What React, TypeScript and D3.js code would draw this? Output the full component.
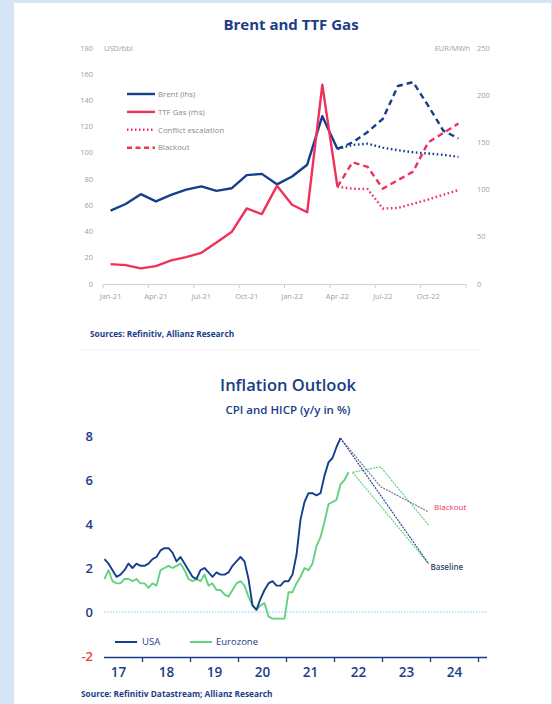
import { line, scaleLinear } from 'd3'

// Brent / TTF — monthly, Jan-21 .. Dec-22 (index 0..23)
const MONTHS = [
  'Jan-21', 'Feb-21', 'Mar-21', 'Apr-21', 'May-21', 'Jun-21', 'Jul-21', 'Aug-21', 'Sep-21', 'Oct-21', 'Nov-21', 'Dec-21',
  'Jan-22', 'Feb-22', 'Mar-22', 'Apr-22', 'May-22', 'Jun-22', 'Jul-22', 'Aug-22', 'Sep-22', 'Oct-22', 'Nov-22', 'Dec-22',
]
const BRENT = [56, 61, 68.5, 63, 68, 72, 74.5, 71, 73, 83, 84, 76, 82, 91, 128, 103]
const TTF = [21, 20, 16.5, 19, 25, 28.5, 33, 44, 55, 80, 74, 104, 84, 76, 211, 103]
const SCEN_START = 15 // Apr-22
const BRENT_CONFLICT = [103, 106, 107, 104, 102, 100.5, 99.5, 98.5, 97]
const BRENT_BLACKOUT = [103, 108, 116, 126, 151, 154, 136, 117, 111]
const TTF_CONFLICT = [103, 101, 100.5, 80, 80.5, 85, 89.5, 94.5, 99.5]
const TTF_BLACKOUT = [103, 129, 124, 101, 110, 119, 150, 160, 170]
const LHS_TICKS = [0, 20, 40, 60, 80, 100, 120, 140, 160, 180]
const RHS_TICKS = [0, 50, 100, 150, 200, 250]

// CPI / HICP — monthly, index = months since Jan-2017
const CPI_START = 2 // Mar-2017
const USA = [
  2.4, 2.2, 1.9, 1.6, 1.7, 1.9, 2.2, 2.0, 2.2, 2.1,
  2.1, 2.2, 2.4, 2.5, 2.8, 2.9, 2.9, 2.7, 2.3, 2.5, 2.2, 1.9,
  1.6, 1.5, 1.9, 2.0, 1.8, 1.6, 1.8, 1.7, 1.7, 1.8, 2.1, 2.3,
  2.5, 2.3, 1.5, 0.3, 0.1, 0.6, 1.0, 1.3, 1.4, 1.2, 1.2, 1.4,
  1.4, 1.7, 2.6, 4.2, 5.0, 5.4, 5.4, 5.3, 5.4, 6.2, 6.8, 7.0,
  7.5, 7.9,
]
const EUROZONE = [
  1.5, 1.9, 1.4, 1.3, 1.3, 1.5, 1.5, 1.4, 1.5, 1.3,
  1.3, 1.1, 1.3, 1.2, 1.9, 2.0, 2.1, 2.0, 2.1, 2.2, 1.9, 1.5,
  1.4, 1.5, 1.4, 1.7, 1.2, 1.3, 1.0, 1.0, 0.8, 0.7, 1.0, 1.3,
  1.4, 1.2, 0.7, 0.3, 0.1, 0.3, 0.4, -0.2, -0.3, -0.3, -0.3, -0.3,
  0.9, 0.9, 1.3, 1.6, 2.0, 1.9, 2.2, 3.0, 3.4, 4.1, 4.9, 5.0,
  5.1, 5.8, 6.0, 6.35,
]
// scenario paths: [month index, value]
const USA_BASELINE: [number, number][] = [[61, 7.9], [83, 2.2]]
const USA_BLACKOUT: [number, number][] = [[61, 7.9], [71, 5.7], [83, 4.55]]
const EZ_BASELINE: [number, number][] = [[64, 6.35], [83, 2.2]]
const EZ_BLACKOUT: [number, number][] = [[64, 6.35], [71, 6.6], [83, 3.95]]
const YEARS = ['17', '18', '19', '20', '21', '22', '23', '24']
const CPI_TICKS = [8, 6, 4, 2, 0, -2]

const BG = '#d4e6f6'
const NAVY = '#153f8c'
const TITLE = '#1b3d87'
const RED = '#f0325a'
const GREEN = '#63d27f'
const TICK_TXT = '#a0a0a0'
const FONT = '"Open Sans", sans-serif'

export default function App() {
  // ---- top chart scales
  const x = scaleLinear().domain([-0.5, 23.5]).range([103, 466])
  const yL = scaleLinear().domain([0, 180]).range([284, 48])
  const yR = scaleLinear().domain([0, 250]).range([284, 48])
  const lineL = (start: number) => line<number>().x((_, i) => x(i + start)).y((d) => yL(d))
  const lineR = (start: number) => line<number>().x((_, i) => x(i + start)).y((d) => yR(d))

  // ---- bottom chart scales
  const xc = scaleLinear().domain([0, 96]).range([94.5, 478.5])
  const yc = scaleLinear().domain([-2, 8]).range([656, 436])
  const cpiLine = line<number>().x((_, i) => xc(i + CPI_START + 0.5)).y((d) => yc(d))
  const scenLine = line<[number, number]>().x((d) => xc(d[0] + 0.5)).y((d) => yc(d[1]))

  const legend = [
    { label: 'Brent (lhs)', color: NAVY, dash: undefined },
    { label: 'TTF Gas (rhs)', color: RED, dash: undefined },
    { label: 'Conflict escalation', color: RED, dash: '1.5,2.5' },
    { label: 'Blackout', color: RED, dash: '5,3.5' },
  ]

  return (
    <svg width={552} height={704} style={{ position: 'absolute', left: 0, top: 0, fontFamily: FONT }}>
      <rect width={552} height={704} fill={BG} />
      <rect x={14} y={3} width={537} height={701} fill="#fff" />

      {/* ===== Brent and TTF Gas ===== */}
      <text x={291} y={30} textAnchor="middle" fontSize={15} fontWeight={700} fill={TITLE}>
        Brent and TTF Gas
      </text>
      {LHS_TICKS.map((t) => (
        <text key={t} x={93} y={yL(t) + 2.5} textAnchor="end" fontSize={7.5} fill={TICK_TXT}>
          {t}
        </text>
      ))}
      {RHS_TICKS.map((t) => (
        <text key={t} x={477} y={yR(t) + 2.5} fontSize={7.5} fill={TICK_TXT}>
          {t}
        </text>
      ))}
      <text x={104} y={50.5} fontSize={7.5} fill={TICK_TXT}>USD/bbl</text>
      <text x={470} y={50.5} textAnchor="end" fontSize={7.5} fill={TICK_TXT}>EUR/MWh</text>

      <line x1={103} x2={466} y1={284.5} y2={284.5} stroke="#d0d0d0" />
      {MONTHS.map((m, i) =>
        i % 3 === 0 ? (
          <text key={m} x={x(i)} y={299} textAnchor="middle" fontSize={7.5} fill={TICK_TXT}>
            {m}
          </text>
        ) : null,
      )}
      {[...MONTHS, ''].map((_, i) =>
        i % 3 === 0 ? (
          <line key={i} x1={x(i - 0.5)} x2={x(i - 0.5)} y1={284.5} y2={288} stroke="#d0d0d0" />
        ) : null,
      )}

      <g fill="none" strokeWidth={2.4} strokeLinejoin="round">
        <path d={lineL(SCEN_START)(BRENT_CONFLICT) ?? ''} stroke={NAVY} strokeDasharray="1.6,2.6" />
        <path d={lineL(SCEN_START)(BRENT_BLACKOUT) ?? ''} stroke={NAVY} strokeDasharray="6,4" />
        <path d={lineR(SCEN_START)(TTF_CONFLICT) ?? ''} stroke={RED} strokeDasharray="1.6,2.6" />
        <path d={lineR(SCEN_START)(TTF_BLACKOUT) ?? ''} stroke={RED} strokeDasharray="6,4" />
        <path d={lineL(0)(BRENT) ?? ''} stroke={NAVY} />
        <path d={lineR(0)(TTF) ?? ''} stroke={RED} />
      </g>

      {legend.map((l, i) => (
        <g key={l.label} transform={`translate(127, ${94 + i * 17.9})`}>
          <line x1={0} x2={28} y1={0} y2={0} stroke={l.color} strokeWidth={2.4} strokeDasharray={l.dash} />
          <text x={31} y={2.7} fontSize={7.8} fill="#8a8a8a">
            {l.label}
          </text>
        </g>
      ))}

      <text x={90} y={337} fontSize={8.3} fontWeight={700} fill={TITLE}>
        Sources: Refinitiv, Allianz Research
      </text>
      <line x1={80} x2={482} y1={350} y2={350} stroke="#f3f3f3" />

      {/* ===== Inflation Outlook ===== */}
      <text x={288} y={391} textAnchor="middle" fontSize={16.5} fontWeight={600} fill={TITLE}>
        Inflation Outlook
      </text>
      <text x={288} y={414} textAnchor="middle" fontSize={11.5} fontWeight={600} fill={TITLE}>
        CPI and HICP (y/y in %)
      </text>

      {CPI_TICKS.map((t) => (
        <text
          key={t}
          x={93}
          y={yc(t) + 4.5}
          textAnchor="end"
          fontSize={13}
          fontWeight={600}
          fill={t < 0 ? '#f04040' : TITLE}
        >
          {t}
        </text>
      ))}
      <line x1={104} x2={487} y1={yc(0)} y2={yc(0)} stroke="#7fd3f2" strokeWidth={1.2} strokeDasharray="1.5,1.5" />

      <g fill="none" strokeWidth={1.2} strokeDasharray="2,1">
        <path d={scenLine(EZ_BLACKOUT) ?? ''} stroke={GREEN} />
        <path d={scenLine(EZ_BASELINE) ?? ''} stroke={GREEN} />
        <path d={scenLine(USA_BLACKOUT) ?? ''} stroke="#6f7a90" />
        <path d={scenLine(USA_BASELINE) ?? ''} stroke="#2e4a94" />
      </g>
      <g fill="none" strokeWidth={1.9} strokeLinejoin="round">
        <path d={cpiLine(EUROZONE) ?? ''} stroke={GREEN} />
        <path d={cpiLine(USA) ?? ''} stroke={NAVY} />
      </g>
      <text x={434} y={510} fontSize={8} fill={RED}>Blackout</text>
      <text x={430.5} y={570} fontSize={8} fontWeight={600} fill="#3b4866">Baseline</text>

      <line x1={115} x2={137} y1={642} y2={642} stroke={NAVY} strokeWidth={2} />
      <text x={142} y={645} fontSize={9.5} fill={TITLE}>USA</text>
      <line x1={190} x2={212} y1={642} y2={642} stroke={GREEN} strokeWidth={2} />
      <text x={216} y={645} fontSize={9.5} fill={TITLE}>Eurozone</text>

      <line x1={104} x2={487} y1={657.5} y2={657.5} stroke={TITLE} strokeWidth={1.5} />
      {YEARS.map((yr, i) => (
        <g key={yr}>
          <line x1={xc(12 * (i + 1))} x2={xc(12 * (i + 1))} y1={657.5} y2={662} stroke={TITLE} strokeWidth={1.3} />
          <text x={xc(12 * i + 6)} y={676.5} textAnchor="middle" fontSize={13.5} fontWeight={600} fill={TITLE}>
            {yr}
          </text>
        </g>
      ))}

      <text x={81} y={697} fontSize={8.3} fontWeight={700} fill={TITLE}>
        Source: Refinitiv Datastream; Allianz Research
      </text>
    </svg>
  )
}
